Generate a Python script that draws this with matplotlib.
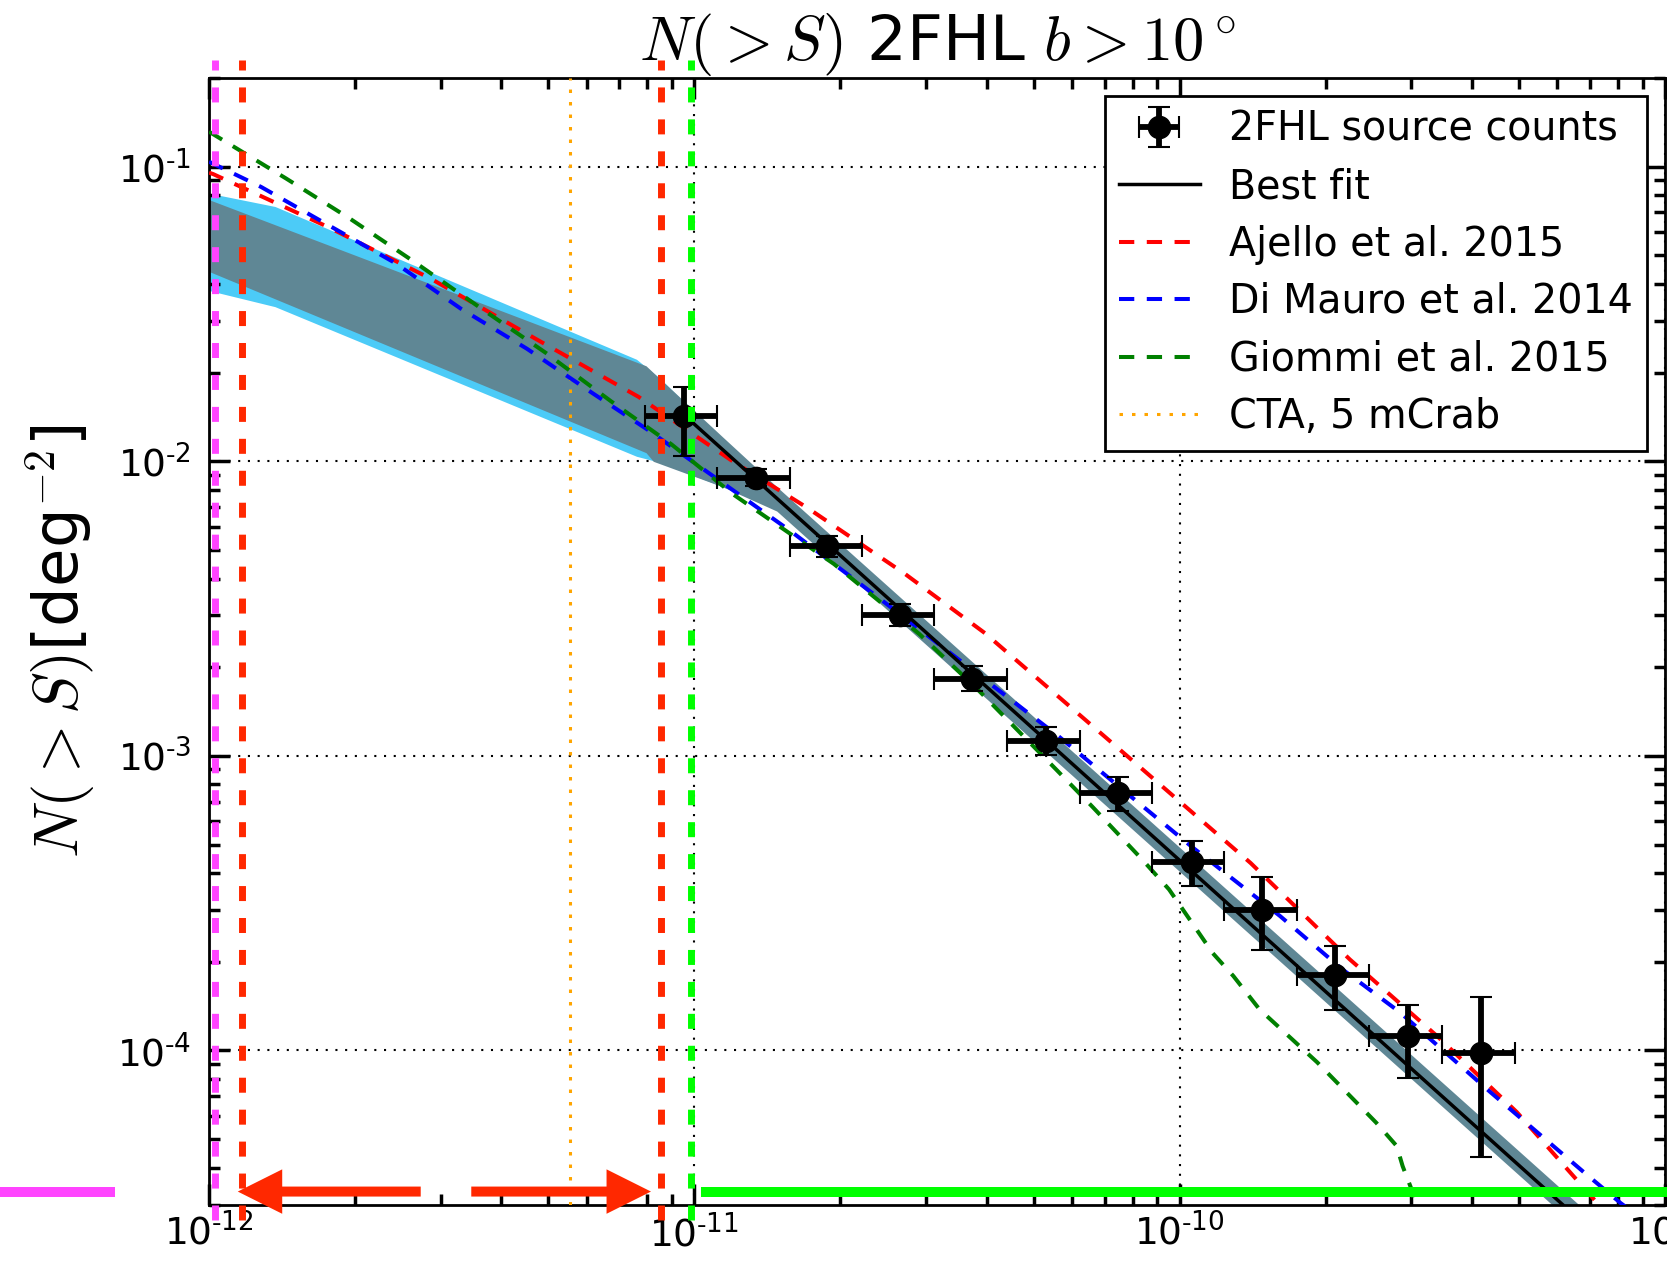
import numpy as np
import matplotlib
matplotlib.use("Agg")
import matplotlib.pyplot as plt
from matplotlib.patches import FancyArrowPatch
from matplotlib.ticker import FuncFormatter

# 2FHL source counts (|b|>10 deg)
flux = [9.5e-12, 1.34e-11, 1.88e-11, 2.65e-11, 3.74e-11, 5.3e-11,
        7.46e-11, 1.06e-10, 1.48e-10, 2.09e-10, 2.96e-10, 4.17e-10]
flux_lo = [7.91e-12, 1.114e-11, 1.571e-11, 2.214e-11, 3.12e-11, 4.40e-11,
           6.22e-11, 8.77e-11, 1.236e-10, 1.742e-10, 2.455e-10, 3.47e-10]
flux_hi = [1.114e-11, 1.571e-11, 2.214e-11, 3.12e-11, 4.40e-11, 6.22e-11,
           8.77e-11, 1.236e-10, 1.742e-10, 2.455e-10, 3.47e-10, 4.90e-10]
counts = [1.428e-2, 8.8e-3, 5.15e-3, 3.0e-3, 1.83e-3, 1.12e-3,
          7.48e-4, 4.37e-4, 3.0e-4, 1.8e-4, 1.12e-4, 9.84e-5]
counts_hi = [1.786e-2, 9.44e-3, 5.6e-3, 3.27e-3, 2.02e-3, 1.25e-3,
             8.47e-4, 5.15e-4, 3.89e-4, 2.27e-4, 1.43e-4, 1.52e-4]
counts_lo = [1.042e-2, 8.26e-3, 4.74e-3, 2.77e-3, 1.66e-3, 1.01e-3,
             6.5e-4, 3.61e-4, 2.2e-4, 1.37e-4, 8.05e-5, 4.34e-5]

# best fit
fit_s = [9.6e-12, 6.15e-10]
fit_n = [1.42e-2, 3.0e-5]

# uncertainty bands
band_s = [1e-12, 7.95e-12, 8.23e-12, 1.143e-11, 1.478e-11, 1e-9]
band_up = [0.0773, 0.0211, 0.0200, 0.01211, 8.2e-3, 1.64e-5]
band_dn = [0.0441, 0.0107, 0.0100, 8.2e-3, 6.78e-3, 1.36e-5]
lb_s = [1e-12, 1.367e-12, 7.6e-12, 8.53e-12, 1.143e-11, 1.478e-11, 1e-9]
lb_up = [0.0813, 0.0733, 0.0222, 0.0190, 0.0118, 8.0e-3, 1.6e-5]
lb_dn = [0.0380, 0.0335, 0.0104, 9.9e-3, 8.2e-3, 6.9e-3, 1.4e-5]

# models
aj_s = [1e-12, 1.02e-12, 1.76e-12, 2.87e-12, 4.70e-12, 7.67e-12, 1.20e-11, 1.71e-11,
        2.71e-11, 3.97e-11, 7.43e-11, 1.40e-10, 2.24e-10, 3.39e-10, 4.95e-10, 7.22e-10, 8.5e-10]
aj_n = [0.0955, 0.0944, 0.0624, 0.0416, 0.0261, 0.01656, 0.0100, 6.95e-3,
        4.16e-3, 2.61e-3, 1.07e-3, 4.33e-4, 2.04e-4, 1.12e-4, 6.18e-5, 3.06e-5, 2.3e-5]
dm_s = [1e-12, 1.28e-12, 1.76e-12, 2.42e-12, 3.30e-12, 4.52e-12, 6.18e-12, 8.07e-12,
        1.11e-11, 1.58e-11, 2.46e-11, 3.66e-11, 5.65e-11, 7.77e-11, 1.06e-10, 1.61e-10,
        2.16e-10, 2.84e-10, 4.36e-10, 6.77e-10, 8.11e-10, 9.5e-10]
dm_n = [0.104, 0.0854, 0.0634, 0.0471, 0.0330, 0.0241, 0.0170, 0.0127,
        8.75e-3, 5.79e-3, 3.33e-3, 2.01e-3, 1.16e-3, 7.49e-4, 4.91e-4, 2.86e-4,
        1.89e-4, 1.35e-4, 7.24e-5, 3.89e-5, 3.03e-5, 2.5e-5]
gi_s = [1e-12, 1.44e-12, 1.95e-12, 2.65e-12, 3.64e-12, 4.95e-12, 6.73e-12, 8.97e-12,
        1.20e-11, 1.94e-11, 2.91e-11, 3.85e-11, 5.57e-11, 6.61e-11, 8.38e-11, 9.51e-11,
        1.17e-10, 1.29e-10, 1.46e-10, 1.92e-10, 2.54e-10, 2.80e-10, 2.88e-10, 3.0e-10, 3.05e-10, 3.1e-10]
gi_n = [0.1315, 0.0913, 0.0667, 0.0475, 0.0330, 0.0233, 0.0160, 0.01142,
        7.74e-3, 4.48e-3, 2.59e-3, 1.67e-3, 8.98e-4, 6.72e-4, 4.44e-4, 3.52e-4,
        2.14e-4, 1.79e-4, 1.38e-4, 9.12e-5, 5.69e-5, 4.74e-5, 4.05e-5, 3.40e-5, 3.03e-5, 2.5e-5]

cta_s = 5.55e-12          # CTA 5 mCrab
vlines = [(1.03e-12, '#ff44ff'), (1.17e-12, '#ff2800'),
          (8.53e-12, '#ff2800'), (9.85e-12, '#00ff00')]
vline_span = [2.65e-5, 0.23]
bar_y = 3.32e-5
pink_bar = [1e-13, 6.4e-13]
green_bar = [1.03e-11, 3e-9]
arrow_left = [2.73e-12, 1.146e-12]
arrow_right = [3.47e-12, 8.14e-12]

plt.rcParams.update({
    'font.family': 'DejaVu Sans',
    'mathtext.fontset': 'cm',
    'axes.unicode_minus': False,
    'lines.scale_dashes': False,
    'xtick.direction': 'in', 'ytick.direction': 'in',
    'xtick.top': True, 'ytick.right': True,
    'xtick.major.size': 15, 'xtick.minor.size': 8,
    'ytick.major.size': 15, 'ytick.minor.size': 8,
    'xtick.major.width': 2.5, 'xtick.minor.width': 2.5,
    'ytick.major.width': 2.5, 'ytick.minor.width': 2.5,
    'axes.linewidth': 2,
})

fig = plt.figure(figsize=(16.67, 12.65), dpi=100)
ax = fig.add_axes([0.1254, 0.0478, 0.8734, 0.8905])
ax.set_xscale('log')
ax.set_yscale('log')

ax.fill_between(lb_s, lb_dn, lb_up, color='#4ccbf7', lw=0, zorder=1)
ax.fill_between(band_s, band_dn, band_up, color='#5f8795', lw=0, zorder=2)

fit_line, = ax.plot(fit_s, fit_n, color='black', lw=2.5, zorder=5, label='Best fit')
l_aj, = ax.plot(aj_s, aj_n, color='red', lw=2.9, dashes=(11, 9), zorder=4,
                label='Ajello et al. 2015')
l_dm, = ax.plot(dm_s, dm_n, color='blue', lw=2.9, dashes=(11, 9), zorder=4,
                label='Di Mauro et al. 2014')
l_gi, = ax.plot(gi_s, gi_n, color='green', lw=2.9, dashes=(11, 9), zorder=4,
                label='Giommi et al. 2015')
l_cta = ax.axvline(cta_s, color='orange', lw=2.2, dashes=(2.5, 6.5), zorder=3,
                   label='CTA, 5 mCrab')

flux = np.array(flux)
counts = np.array(counts)
xerr = [flux - np.array(flux_lo), np.array(flux_hi) - flux]
yerr = [counts - np.array(counts_lo), np.array(counts_hi) - counts]
eb = ax.errorbar(flux, counts, xerr=xerr, yerr=yerr, fmt='o', color='black',
                 ms=16, elinewidth=4.2, capsize=8, capthick=1.5, zorder=6,
                 label='2FHL source counts')

# limits shown as thick dashed lines running past the frame
for xv, col in vlines:
    ax.plot([xv, xv], vline_span, color=col, lw=5, dashes=(10.8, 12.2),
            clip_on=False, zorder=7)

ax.plot(pink_bar, [bar_y, bar_y], color='#ff44ff', lw=7.2, clip_on=False,
        solid_capstyle='butt', zorder=7)
ax.plot(green_bar, [bar_y, bar_y], color='#00ff00', lw=7.2, clip_on=False,
        solid_capstyle='butt', zorder=7)
for xa, xb in [arrow_left, arrow_right]:
    arr = FancyArrowPatch((xa, bar_y), (xb, bar_y),
                          arrowstyle='simple,head_length=32,head_width=32,tail_width=7.2',
                          mutation_scale=1, color='#ff2800', lw=0,
                          shrinkA=0, shrinkB=0, clip_on=False, zorder=8)
    ax.add_patch(arr)

def log_label(v, pos):
    e = int(round(np.log10(v)))
    return r'$\mathdefault{10^{\text{-}%d}}$' % abs(e) if e < 0 else r'$\mathdefault{10^{%d}}$' % e

ax.set_xlim(1e-12, 1e-9)
ax.set_ylim(3e-5, 0.2)
ax.xaxis.set_major_formatter(FuncFormatter(log_label))
ax.yaxis.set_major_formatter(FuncFormatter(log_label))
ax.grid(True, which='major', color='black', lw=1.5, linestyle=(0, (1.5, 5.5)))
ax.tick_params(which='both', labelsize=27)
ax.tick_params(axis='x', pad=7)
ax.tick_params(axis='y', pad=13)

ax.set_title(r'$N(>S)$ 2FHL $b>10^\circ$', fontsize=45, pad=4)
ax.set_ylabel(r'$N(>S)$[deg$^{-2}$]', fontsize=45, labelpad=14)

leg = ax.legend(handles=[eb, fit_line, l_aj, l_dm, l_gi, l_cta],
                loc='upper right', fontsize=28.5, handlelength=2.05,
                handletextpad=0.75, labelspacing=0.44, borderpad=0.35,
                borderaxespad=0.45, fancybox=False, framealpha=1)
leg.get_frame().set_edgecolor('black')
leg.get_frame().set_linewidth(2)

fig.savefig('out.png', dpi=100)
